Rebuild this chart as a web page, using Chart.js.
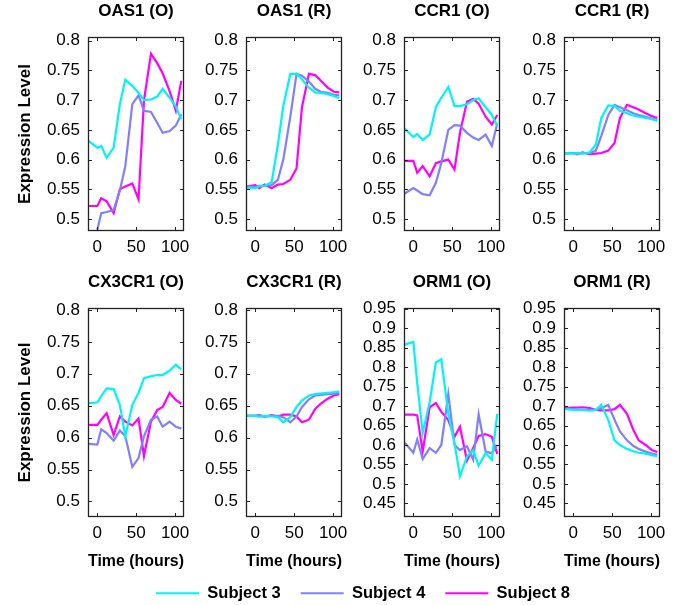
<!DOCTYPE html>
<html>
<head>
<meta charset="utf-8">
<script src="https://cdn.jsdelivr.net/npm/chart.js@4.4.1/dist/chart.umd.min.js"></script>
<style>
  body { margin: 0; background: #fff; }
  #figure { position: relative; width: 694px; height: 605px; overflow: hidden; background: #fff; }
  #figure canvas { position: absolute; }
</style>
</head>
<body>
<div id="figure"></div>
<script>
// sampling times (hours) shared by every subject
const hours = [-11, 0, 5, 12, 21, 29, 36, 45, 53, 60, 69, 77, 84, 93, 101, 108];
const subjects = ['Subject 3', 'Subject 4', 'Subject 8'];
const subjectColors = ['#00f4f4', '#8080ff', '#ff00ff'];

const xTicks = [0, 50, 100];
const yTicksNarrow = [0.5, 0.55, 0.6, 0.65, 0.7, 0.75, 0.8];
const yTicksWide = [0.45, 0.5, 0.55, 0.6, 0.65, 0.7, 0.75, 0.8, 0.85, 0.9, 0.95];

// expression per gene: one row per subject (3, 4, 8)
const oas1O = [
  [0.631, 0.620, 0.623, 0.603, 0.620, 0.693, 0.734, 0.724, 0.712, 0.700, 0.701, 0.706, 0.719, 0.704, 0.689, 0.668],
  [0.440, 0.482, 0.510, 0.512, 0.515, 0.548, 0.589, 0.693, 0.708, 0.682, 0.680, 0.662, 0.645, 0.648, 0.657, 0.676],
  [0.522, 0.522, 0.535, 0.530, 0.510, 0.550, 0.555, 0.560, 0.533, 0.699, 0.778, 0.762, 0.745, 0.715, 0.682, 0.732]
];
const oas1R = [
  [0.553, 0.552, 0.555, 0.556, 0.562, 0.625, 0.690, 0.744, 0.744, 0.735, 0.721, 0.713, 0.712, 0.710, 0.707, 0.703],
  [0.555, 0.554, 0.556, 0.556, 0.557, 0.566, 0.600, 0.672, 0.744, 0.741, 0.731, 0.719, 0.714, 0.712, 0.709, 0.708],
  [0.555, 0.557, 0.552, 0.558, 0.552, 0.558, 0.559, 0.566, 0.585, 0.688, 0.744, 0.742, 0.733, 0.721, 0.714, 0.713]
];
const ccr1O = [
  [0.652, 0.638, 0.643, 0.633, 0.642, 0.688, 0.704, 0.722, 0.690, 0.690, 0.693, 0.700, 0.703, 0.688, 0.675, 0.657],
  [0.543, 0.552, 0.548, 0.542, 0.540, 0.561, 0.594, 0.650, 0.658, 0.657, 0.645, 0.637, 0.633, 0.642, 0.623, 0.661],
  [0.598, 0.598, 0.578, 0.589, 0.572, 0.594, 0.597, 0.600, 0.583, 0.645, 0.697, 0.702, 0.694, 0.672, 0.659, 0.675]
];
const ccr1R = [
  [0.611, 0.610, 0.611, 0.610, 0.612, 0.625, 0.670, 0.691, 0.690, 0.682, 0.678, 0.674, 0.672, 0.670, 0.668, 0.665],
  [0.611, 0.611, 0.610, 0.611, 0.611, 0.615, 0.640, 0.675, 0.692, 0.688, 0.683, 0.678, 0.675, 0.672, 0.669, 0.667],
  [0.611, 0.611, 0.609, 0.612, 0.609, 0.610, 0.611, 0.615, 0.628, 0.670, 0.692, 0.688, 0.684, 0.678, 0.673, 0.670]
];
const cx3cr1O = [
  [0.654, 0.655, 0.665, 0.677, 0.676, 0.651, 0.602, 0.651, 0.670, 0.693, 0.696, 0.698, 0.698, 0.705, 0.714, 0.707],
  [0.590, 0.589, 0.613, 0.607, 0.595, 0.611, 0.602, 0.554, 0.568, 0.602, 0.628, 0.633, 0.617, 0.625, 0.617, 0.614],
  [0.620, 0.620, 0.628, 0.638, 0.604, 0.633, 0.625, 0.619, 0.630, 0.571, 0.625, 0.643, 0.648, 0.670, 0.659, 0.653]
];
const cx3cr1R = [
  [0.634, 0.634, 0.633, 0.634, 0.633, 0.632, 0.624, 0.632, 0.648, 0.658, 0.666, 0.668, 0.669, 0.670, 0.671, 0.672],
  [0.634, 0.634, 0.634, 0.633, 0.634, 0.634, 0.632, 0.624, 0.633, 0.648, 0.660, 0.666, 0.667, 0.668, 0.669, 0.670],
  [0.634, 0.634, 0.635, 0.633, 0.635, 0.633, 0.636, 0.636, 0.633, 0.624, 0.628, 0.645, 0.653, 0.661, 0.666, 0.668]
];
const orm1O = [
  [0.858, 0.865, 0.760, 0.631, 0.710, 0.812, 0.820, 0.680, 0.604, 0.520, 0.570, 0.587, 0.547, 0.579, 0.562, 0.680],
  [0.606, 0.580, 0.614, 0.564, 0.592, 0.580, 0.600, 0.731, 0.600, 0.587, 0.597, 0.562, 0.679, 0.583, 0.579, 0.600],
  [0.678, 0.678, 0.676, 0.583, 0.697, 0.708, 0.685, 0.664, 0.621, 0.647, 0.560, 0.592, 0.623, 0.628, 0.621, 0.577]
];
const orm1R = [
  [0.693, 0.690, 0.690, 0.690, 0.688, 0.690, 0.703, 0.664, 0.612, 0.600, 0.590, 0.584, 0.580, 0.578, 0.574, 0.571],
  [0.693, 0.692, 0.690, 0.690, 0.690, 0.690, 0.695, 0.703, 0.665, 0.635, 0.612, 0.598, 0.590, 0.583, 0.578, 0.575],
  [0.695, 0.696, 0.696, 0.697, 0.695, 0.690, 0.689, 0.689, 0.692, 0.703, 0.680, 0.640, 0.612, 0.600, 0.587, 0.582]
];

const panels = [
  { title: 'OAS1 (O)', values: oas1O, yTicks: yTicksNarrow, yMin: 0.48, yMax: 0.806 },
  { title: 'OAS1 (R)', values: oas1R, yTicks: yTicksNarrow, yMin: 0.48, yMax: 0.806 },
  { title: 'CCR1 (O)', values: ccr1O, yTicks: yTicksNarrow, yMin: 0.48, yMax: 0.806 },
  { title: 'CCR1 (R)', values: ccr1R, yTicks: yTicksNarrow, yMin: 0.48, yMax: 0.806 },
  { title: 'CX3CR1 (O)', values: cx3cr1O, yTicks: yTicksNarrow, yMin: 0.4756, yMax: 0.803 },
  { title: 'CX3CR1 (R)', values: cx3cr1R, yTicks: yTicksNarrow, yMin: 0.4756, yMax: 0.803 },
  { title: 'ORM1 (O)', values: orm1O, yTicks: yTicksWide, yMin: 0.415, yMax: 0.952 },
  { title: 'ORM1 (R)', values: orm1R, yTicks: yTicksWide, yMin: 0.415, yMax: 0.952 }
];

// grid of plot frames
const colLeft = [88, 246, 404, 564];
const rowTop = [37, 308];
const rowHeight = [194, 209];
const plotWidth = 96;
const titleBlock = 34;
const rightPad = 20;

const fontFamily = "'Liberation Sans', Arial, Helvetica, sans-serif";
Chart.defaults.font.family = fontFamily;
Chart.defaults.color = '#000';

// closed axes box with short inward ticks on all four sides
const boxFrame = {
  id: 'boxFrame',
  afterDatasetsDraw(chart) {
    const { ctx, chartArea: a, scales: { x, y } } = chart;
    const len = 4;
    ctx.save();
    ctx.strokeStyle = '#222';
    ctx.lineWidth = 1;
    ctx.beginPath();
    x.ticks.forEach(t => {
      const px = Math.round(x.getPixelForValue(t.value)) + 0.5;
      ctx.moveTo(px, a.bottom); ctx.lineTo(px, a.bottom - len);
      ctx.moveTo(px, a.top); ctx.lineTo(px, a.top + len);
    });
    y.ticks.forEach(t => {
      const py = Math.round(y.getPixelForValue(t.value)) + 0.5;
      ctx.moveTo(a.left, py); ctx.lineTo(a.left + len, py);
      ctx.moveTo(a.right, py); ctx.lineTo(a.right - len, py);
    });
    ctx.stroke();
    ctx.lineWidth = 1.3;
    ctx.strokeRect(a.left + 0.5, a.top + 0.5, a.width - 1, a.height - 1);
    ctx.restore();
  }
};

const fig = document.getElementById('figure');

function addCanvas(left, top, w, h) {
  const c = document.createElement('canvas');
  c.width = w;
  c.height = h;
  c.style.left = left + 'px';
  c.style.top = top + 'px';
  fig.appendChild(c);
  return c.getContext('2d');
}

panels.forEach((p, i) => {
  const row = Math.floor(i / 4);
  const col = i % 4;
  const firstCol = col === 0;
  const bottomRow = row === 1;
  const yAxisW = firstCol ? 88 : 60;
  const xAxisH = bottomRow ? 53 : 26;

  const ctx = addCanvas(
    colLeft[col] - yAxisW,
    rowTop[row] - titleBlock,
    yAxisW + plotWidth + rightPad,
    titleBlock + rowHeight[row] + xAxisH
  );

  new Chart(ctx, {
    type: 'line',
    data: {
      datasets: p.values.map((vals, k) => ({
        label: subjects[k],
        data: hours.map((h, j) => ({ x: h, y: vals[j] })),
        borderColor: subjectColors[k],
        backgroundColor: subjectColors[k],
        borderWidth: 2.2,
        pointRadius: 0,
        tension: 0,
        fill: false
      }))
    },
    options: {
      responsive: false,
      animation: false,
      events: [],
      layout: { padding: { left: 0, right: rightPad, top: 0, bottom: 0 } },
      plugins: {
        legend: { display: false },
        tooltip: { enabled: false },
        title: {
          display: true,
          text: p.title,
          fullSize: false,
          color: '#000',
          font: { size: 17, weight: 'bold', lineHeight: 1 },
          padding: { top: 0, bottom: 17 }
        }
      },
      scales: {
        x: {
          type: 'linear',
          min: -12,
          max: 111.5,
          grid: { display: false, drawTicks: false },
          border: { display: false },
          afterBuildTicks: s => { s.ticks = xTicks.map(v => ({ value: v })); },
          afterFit: s => { s.height = xAxisH; },
          ticks: { padding: 6, autoSkip: false, maxRotation: 0, color: '#000', font: { size: 17 }, callback: v => String(v) },
          title: {
            display: bottomRow,
            text: 'Time (hours)',
            color: '#000',
            font: { size: 17, weight: 'bold', lineHeight: 1 },
            padding: 0
          }
        },
        y: {
          type: 'linear',
          min: p.yMin,
          max: p.yMax,
          grid: { display: false, drawTicks: false },
          border: { display: false },
          afterBuildTicks: s => { s.ticks = p.yTicks.map(v => ({ value: v })); },
          afterFit: s => { s.width = yAxisW; },
          ticks: { padding: 8, autoSkip: false, color: '#000', font: { size: 17 }, callback: v => String(v) },
          title: {
            display: firstCol,
            text: 'Expression Level',
            color: '#000',
            font: { size: 17, weight: 'bold', lineHeight: 1 },
            padding: { top: 17, bottom: 0 }
          }
        }
      }
    },
    plugins: [boxFrame]
  });
});

// shared legend under the grid
const legendCtx = addCanvas(32, 565, 662, 160);
new Chart(legendCtx, {
  type: 'line',
  data: {
    datasets: subjects.map((s, k) => ({
      label: s,
      data: [],
      borderColor: subjectColors[k],
      backgroundColor: subjectColors[k]
    }))
  },
  options: {
    responsive: false,
    animation: false,
    events: [],
    scales: { x: { display: false }, y: { display: false } },
    plugins: {
      tooltip: { enabled: false },
      legend: {
        display: true,
        position: 'top',
        labels: {
          boxWidth: 43,
          boxHeight: 2,
          padding: 20,
          color: '#000',
          font: { size: 16.5, weight: 'bold' },
          generateLabels: chart => Chart.defaults.plugins.legend.labels.generateLabels(chart)
            .map(item => Object.assign(item, { lineWidth: 0 }))
        }
      }
    }
  }
});
</script>
</body>
</html>
